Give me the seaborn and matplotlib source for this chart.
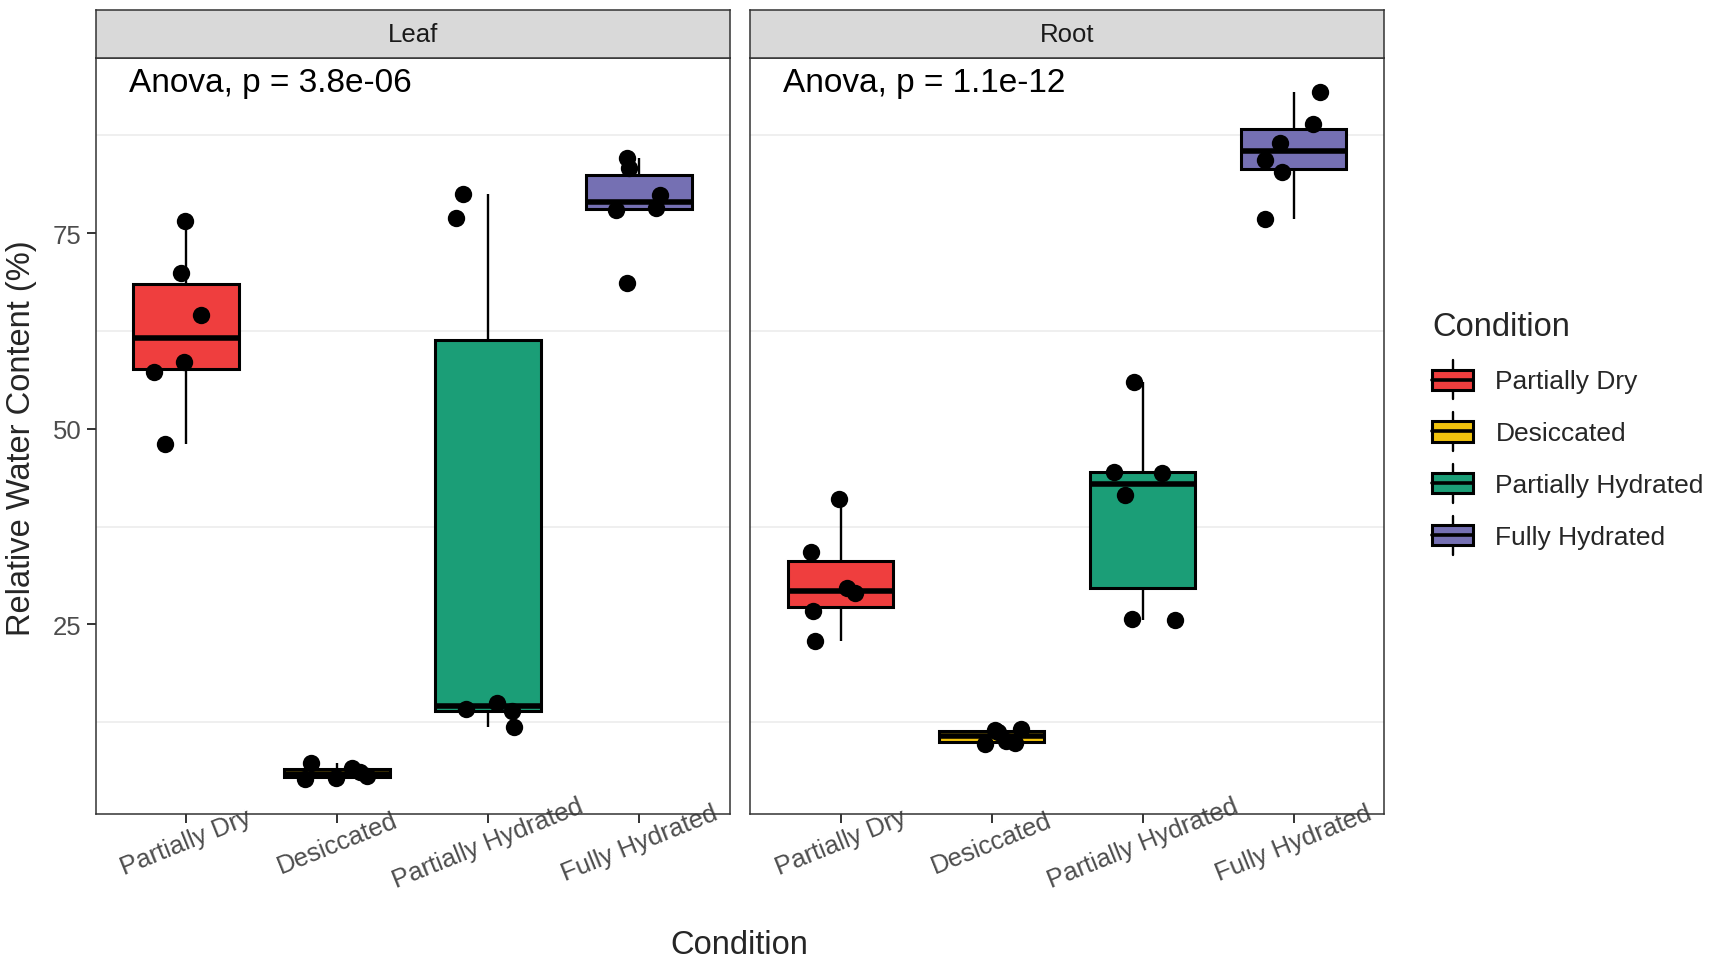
import numpy as np
import pandas as pd
import matplotlib.pyplot as plt
import seaborn as sns
from matplotlib.patches import Patch, Rectangle
from matplotlib.lines import Line2D
from matplotlib.legend_handler import HandlerBase

# Values (relative water content, %)
conditions = ["Partially Dry", "Desiccated", "Partially Hydrated", "Fully Hydrated"]
colors = ["#EF3E3E", "#F0C20D", "#1B9E77", "#7570B3"]

leaf_partially_dry = [48.0, 57.3, 58.5, 64.6, 69.9, 76.6]
leaf_desiccated = [5.2, 5.4, 5.6, 6.2, 6.7, 7.3]
leaf_partially_hydrated = [11.9, 13.9, 14.2, 14.9, 76.9, 80.0]
leaf_fully_hydrated = [68.6, 78.0, 78.2, 79.9, 83.3, 84.6]

root_partially_dry = [22.9, 26.7, 29.0, 29.6, 34.3, 41.0]
root_desiccated = [9.75, 9.9, 10.1, 11.3, 11.45, 11.65]
root_partially_hydrated = [25.6, 25.7, 41.5, 44.3, 44.5, 56.0]
root_fully_hydrated = [76.8, 82.8, 84.4, 86.5, 88.9, 93.1]

tissues = ["Leaf", "Root"]
p_labels = ["Anova, p = 3.8e-06", "Anova, p = 1.1e-12"]

groups = {
    "Leaf": [leaf_partially_dry, leaf_desiccated, leaf_partially_hydrated, leaf_fully_hydrated],
    "Root": [root_partially_dry, root_desiccated, root_partially_hydrated, root_fully_hydrated],
}

rows = []
for tissue, vals in groups.items():
    for cond, v in zip(conditions, vals):
        for val in v:
            rows.append({"Tissue": tissue, "Condition": cond, "RWC": val})
df = pd.DataFrame(rows)

sns.set_theme(style="white")
plt.rcParams["font.family"] = ["Liberation Sans", "DejaVu Sans"]

palette = dict(zip(conditions, colors))
np.random.seed(11)

fig = plt.figure(figsize=(17.13, 9.62), dpi=100)
lefts = [0.0558, 0.4378]
pw = 0.3702
bottom, top = 0.153, 0.9387

for i, tissue in enumerate(tissues):
    ax = fig.add_axes([lefts[i], bottom, pw, top - bottom])
    sub = df[df["Tissue"] == tissue]
    sns.boxplot(data=sub, x="Condition", y="RWC", hue="Condition", order=conditions,
                hue_order=conditions, palette=palette, saturation=1, width=0.7,
                linecolor="black", linewidth=2.2, showfliers=False, legend=False, ax=ax,
                medianprops={"linewidth": 4.0},
                whiskerprops={"linewidth": 1.7},
                capprops={"linewidth": 0})
    sns.stripplot(data=sub, x="Condition", y="RWC", order=conditions, color="black",
                  jitter=0.22, size=12.5, linewidth=0, ax=ax, zorder=5)

    ax.set_xlim(-0.6, 3.6)
    ax.set_ylim(0.8, 97.4)
    ax.set_xlabel("")
    ax.set_ylabel("")
    ax.set_yticks([25, 50, 75])
    ax.set_yticks([12.5, 37.5, 62.5, 87.5], minor=True)
    ax.grid(False)
    ax.grid(which="minor", axis="y", color="#EBEBEB", linewidth=1.1)
    ax.set_axisbelow(True)
    for s in ax.spines.values():
        s.set_color("#333333")
        s.set_linewidth(1.1)
    ax.tick_params(axis="both", which="major", length=6.5, width=1.4, color="#333333",
                   labelsize=18.5, labelcolor="#4D4D4D", left=True, bottom=True)
    ax.tick_params(axis="x", which="major", pad=14)
    ax.tick_params(axis="y", which="minor", length=0)
    ax.set_xticks(range(len(conditions)))
    ax.set_xticklabels(conditions, rotation=22, ha="center", va="center",
                       rotation_mode="anchor")
    if i == 1:
        ax.tick_params(axis="y", left=False, labelleft=False)
    ax.text(0.052, 0.967, p_labels[i], transform=ax.transAxes, fontsize=24,
            ha="left", va="center", color="black")

    # facet strip
    sax = fig.add_axes([lefts[i], top, pw, 0.9886 - top])
    sax.set_facecolor("#D9D9D9")
    sax.set_xticks([])
    sax.set_yticks([])
    for s in sax.spines.values():
        s.set_color("#333333")
        s.set_linewidth(1.1)
    sax.text(0.5, 0.5, tissue, transform=sax.transAxes, ha="center", va="center",
             fontsize=18.5, color="#1A1A1A")

fig.text(0.4315, 0.017, "Condition", ha="center", va="center", fontsize=23.5)
fig.text(0.0128, 0.545, "Relative Water Content (%)", ha="center", va="center",
         rotation=90, fontsize=23.5)


class BoxKey(HandlerBase):
    def create_artists(self, legend, orig_handle, xd, yd, w, h, fontsize, trans):
        x0, y0 = -xd, -yd
        cx = x0 + w / 2
        whisk = Line2D([cx, cx], [y0 - 0.12 * h, y0 + 1.12 * h], color="black", lw=1.7,
                       transform=trans)
        rect = Rectangle((x0, y0 + 0.18 * h), w, 0.64 * h,
                         facecolor=orig_handle.get_facecolor(), edgecolor="black",
                         lw=2.2, transform=trans)
        med = Line2D([x0, x0 + w], [y0 + h / 2] * 2, color="black", lw=2.6, transform=trans)
        return [whisk, rect, med]


handles = [Patch(facecolor=c) for c in colors]
leg = fig.legend(handles, conditions, handler_map={Patch: BoxKey()},
                 loc="upper left", bbox_to_anchor=(0.836, 0.676), frameon=False,
                 title="Condition", title_fontsize=23.5, prop={"size": 19},
                 handlelength=1.55, handleheight=1.45, labelspacing=0.78,
                 handletextpad=0.85, borderpad=0, borderaxespad=0, alignment="left")
leg._legend_box.sep = 16

fig.savefig("out.png", dpi=100)
